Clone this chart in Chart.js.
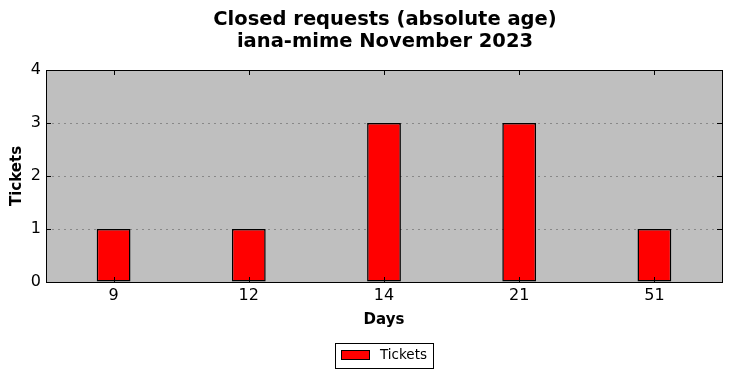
<!DOCTYPE html>
<html>
<head>
<meta charset="utf-8">
<script src="https://cdn.jsdelivr.net/npm/chart.js@4/dist/chart.umd.min.js"></script>
<style>
  html, body { margin: 0; padding: 0; background: #fff; }
  #wrap { width: 732px; height: 378px; }
</style>
</head>
<body>
<div id="wrap"><canvas id="chart" width="732" height="378"></canvas></div>
<script>
const dias = ['9', '12', '14', '21', '51'];
const tickets = [1, 1, 3, 3, 1];
const yTicks = [0, 1, 2, 3, 4];
const serie = 'Tickets';
const titulo = ['Closed requests (absolute age)', 'iana-mime November 2023'];

Chart.defaults.font.family = '"DejaVu Sans", sans-serif';
Chart.defaults.color = '#000';

// fundo cinza, moldura, marcas internas, titulo e legenda com caixa (estilo matplotlib)
const moldura = {
  id: 'moldura',
  beforeDraw(chart) {
    const a = chart.chartArea, ctx = chart.ctx;
    ctx.save();
    ctx.fillStyle = '#bfbfbf';
    ctx.fillRect(a.left, a.top, a.right - a.left, a.bottom - a.top);
    ctx.restore();
  },
  afterDatasetsDraw(chart) {
    const a = chart.chartArea, ctx = chart.ctx;
    const x = chart.scales.x, y = chart.scales.y;
    ctx.save();
    ctx.strokeStyle = '#000';
    ctx.lineWidth = 1;
    ctx.beginPath();
    dias.forEach((d, i) => {
      const px = Math.round(x.getPixelForValue(i)) + 0.5;
      ctx.moveTo(px, a.bottom); ctx.lineTo(px, a.bottom - 5);
      ctx.moveTo(px, a.top); ctx.lineTo(px, a.top + 5);
    });
    yTicks.forEach(v => {
      const py = Math.round(y.getPixelForValue(v)) + 0.5;
      ctx.moveTo(a.left, py); ctx.lineTo(a.left + 5, py);
      ctx.moveTo(a.right, py); ctx.lineTo(a.right - 5, py);
    });
    ctx.stroke();
    ctx.strokeRect(Math.round(a.left) + 0.5, Math.round(a.top) + 0.5,
      Math.round(a.right - a.left), Math.round(a.bottom - a.top));
    ctx.restore();
  },
  afterDraw(chart) {
    const a = chart.chartArea, ctx = chart.ctx;
    const cx = Math.round((a.left + a.right) / 2);
    ctx.save();
    // titulo centrado sobre a area do grafico
    ctx.fillStyle = '#000';
    ctx.font = 'bold 19.5px "DejaVu Sans", sans-serif';
    ctx.textAlign = 'center';
    ctx.textBaseline = 'middle';
    titulo.forEach((t, i) => ctx.fillText(t, cx + 1, 19.5 + i * 22));
    // legenda
    const top = Math.round(a.bottom) + 61;
    ctx.lineWidth = 1;
    ctx.strokeStyle = '#000';
    ctx.fillStyle = '#fff';
    ctx.fillRect(cx - 49, top, 98, 25);
    ctx.strokeRect(cx - 49 + 0.5, top + 0.5, 98, 25);
    ctx.fillStyle = '#ff0000';
    ctx.fillRect(cx - 43, top + 7, 28, 9);
    ctx.strokeRect(cx - 43 + 0.5, top + 7 + 0.5, 28, 9);
    ctx.fillStyle = '#000';
    ctx.font = '13.5px "DejaVu Sans", sans-serif';
    ctx.textAlign = 'left';
    ctx.fillText(serie, cx - 4, top + 12.5);
    ctx.restore();
  }
};

new Chart(document.getElementById('chart'), {
  type: 'bar',
  data: {
    labels: dias,
    datasets: [{
      label: serie,
      data: tickets,
      backgroundColor: '#ff0000',
      borderColor: '#000000',
      borderWidth: 1.5,
      borderSkipped: false,
      barPercentage: 0.25,
      categoryPercentage: 1
    }]
  },
  options: {
    responsive: false,
    animation: false,
    layout: { padding: { left: 0, right: 10, top: 70, bottom: 46 } },
    plugins: {
      title: { display: false },
      legend: { display: false },
      tooltip: { enabled: false }
    },
    scales: {
      x: {
        afterFit: s => { s.height = 50; },
        grid: { display: false, drawTicks: false },
        border: { display: false },
        ticks: { font: { size: 16 }, padding: 4, color: '#000' },
        title: { display: true, text: 'Days', font: { size: 15, weight: 'bold' }, padding: { top: 0, bottom: 3 } }
      },
      y: {
        min: 0,
        max: 4,
        afterFit: s => { s.width = 46; },
        grid: {
          drawTicks: false,
          color: c => (c.tick.value === 0 || c.tick.value === 4) ? 'rgba(0,0,0,0)' : '#888888',
          lineWidth: 1
        },
        border: { display: false, dash: [2, 4] },
        ticks: { stepSize: 1, font: { size: 16 }, padding: 5, color: '#000' },
        title: { display: true, text: 'Tickets', font: { size: 15, weight: 'bold' }, padding: { top: 8, bottom: 0 } }
      }
    }
  },
  plugins: [moldura]
});
</script>
</body>
</html>
